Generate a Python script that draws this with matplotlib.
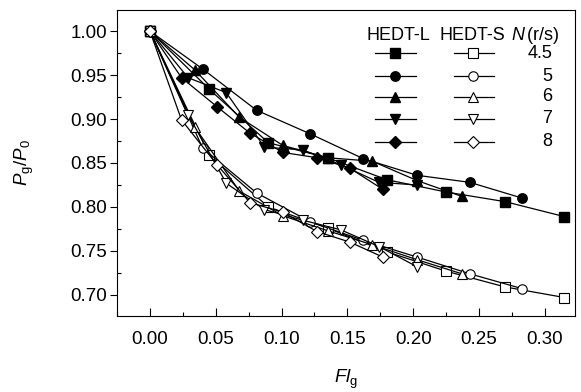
import matplotlib
matplotlib.use('Agg')
import matplotlib.pyplot as plt
from matplotlib.ticker import MultipleLocator

plt.rcParams['font.family'] = ['Liberation Sans', 'DejaVu Sans']
plt.rcParams['mathtext.fontset'] = 'custom'
plt.rcParams['mathtext.rm'] = 'Liberation Sans'
plt.rcParams['mathtext.it'] = 'Liberation Sans:italic'

speeds = ['4.5', '5', '6', '7', '8']
markers = ['s', 'o', '^', 'v', 'D']

# HEDT-L (filled)
fl_L = [
    [0.0, 0.045, 0.090, 0.135, 0.180, 0.225, 0.270, 0.315],
    [0.0, 0.040, 0.081, 0.122, 0.162, 0.203, 0.243, 0.283],
    [0.0, 0.034, 0.068, 0.101, 0.135, 0.169, 0.203, 0.237],
    [0.0, 0.029, 0.058, 0.087, 0.116, 0.145, 0.174, 0.203],
    [0.0, 0.024, 0.051, 0.076, 0.101, 0.127, 0.152, 0.177],
]
p_L = [
    [1.0, 0.934, 0.873, 0.856, 0.831, 0.817, 0.806, 0.789],
    [1.0, 0.957, 0.910, 0.883, 0.855, 0.836, 0.828, 0.810],
    [1.0, 0.956, 0.902, 0.870, 0.856, 0.852, 0.830, 0.812],
    [1.0, 0.947, 0.930, 0.868, 0.865, 0.848, 0.828, 0.825],
    [1.0, 0.947, 0.914, 0.884, 0.862, 0.856, 0.844, 0.820],
]

# HEDT-S (open)
fl_S = fl_L
p_S = [
    [1.0, 0.859, 0.800, 0.776, 0.749, 0.727, 0.709, 0.697],
    [1.0, 0.867, 0.816, 0.783, 0.762, 0.743, 0.724, 0.707],
    [1.0, 0.891, 0.818, 0.790, 0.773, 0.757, 0.740, 0.724],
    [1.0, 0.905, 0.827, 0.797, 0.785, 0.774, 0.755, 0.732],
    [1.0, 0.899, 0.848, 0.805, 0.794, 0.772, 0.760, 0.743],
]

fig = plt.figure(figsize=(5.81, 3.92), dpi=100)
ax = fig.add_axes([0.2014, 0.1939, 0.7883, 0.7806])


def msize(m):
    return 6.0 if m == 'D' else 6.8


for i in range(5):
    ax.plot(fl_L[i], p_L[i], color='black', lw=0.9, marker=markers[i],
            ms=msize(markers[i]), mfc='black', mec='black')
for i in range(5):
    ax.plot(fl_S[i], p_S[i], color='black', lw=0.9, marker=markers[i],
            ms=msize(markers[i]), mfc='white', mec='black', mew=0.8)

ax.set_xlim(-0.025, 0.323)
ax.set_ylim(0.676, 1.024)
ax.xaxis.set_major_locator(MultipleLocator(0.05))
ax.xaxis.set_minor_locator(MultipleLocator(0.025))
ax.yaxis.set_major_locator(MultipleLocator(0.05))
ax.yaxis.set_minor_locator(MultipleLocator(0.025))
ax.xaxis.set_major_formatter(plt.FormatStrFormatter('%.2f'))
ax.yaxis.set_major_formatter(plt.FormatStrFormatter('%.2f'))
ax.tick_params(axis='x', which='major', direction='in', length=6, width=0.8,
               labelsize=13.5, pad=11)
ax.tick_params(axis='x', which='minor', direction='in', length=3, width=0.8)
ax.tick_params(axis='y', which='major', direction='out', length=5, width=0.8,
               labelsize=13.5, pad=2)
ax.tick_params(axis='y', which='minor', direction='in', length=3, width=0.8)
for s in ax.spines.values():
    s.set_linewidth(0.8)

ax.set_xlabel(r'$Fl_{\rm g}$', fontsize=13.5, labelpad=14)
ax.set_ylabel(r'$P_{\rm g}/P_{\rm 0}$', fontsize=13.5, labelpad=25)

# legend table
tr = ax.transAxes
ax.text(0.6135, 0.918, 'HEDT-L', transform=tr, ha='center', va='center', fontsize=13)
ax.text(0.776, 0.918, 'HEDT-S', transform=tr, ha='center', va='center', fontsize=13)
ax.text(0.914, 0.918, r'$N\,$(r/s)', transform=tr, ha='center', va='center', fontsize=13)
rows_y = [0.859, 0.784, 0.716, 0.644, 0.569]
for i in range(5):
    y = rows_y[i]
    ax.plot([0.563, 0.653], [y, y], transform=tr, color='black', lw=0.9)
    ax.plot([0.607], [y], transform=tr, color='black', marker=markers[i],
            ms=msize(markers[i]), mfc='black', mec='black')
    ax.plot([0.736, 0.823], [y, y], transform=tr, color='black', lw=0.9)
    ax.plot([0.777], [y], transform=tr, color='black', marker=markers[i],
            ms=msize(markers[i]), mfc='white', mec='black', mew=0.8)
    ax.text(0.950, y, speeds[i], transform=tr, ha='right', va='center', fontsize=13)

fig.savefig('out.png', dpi=100)
